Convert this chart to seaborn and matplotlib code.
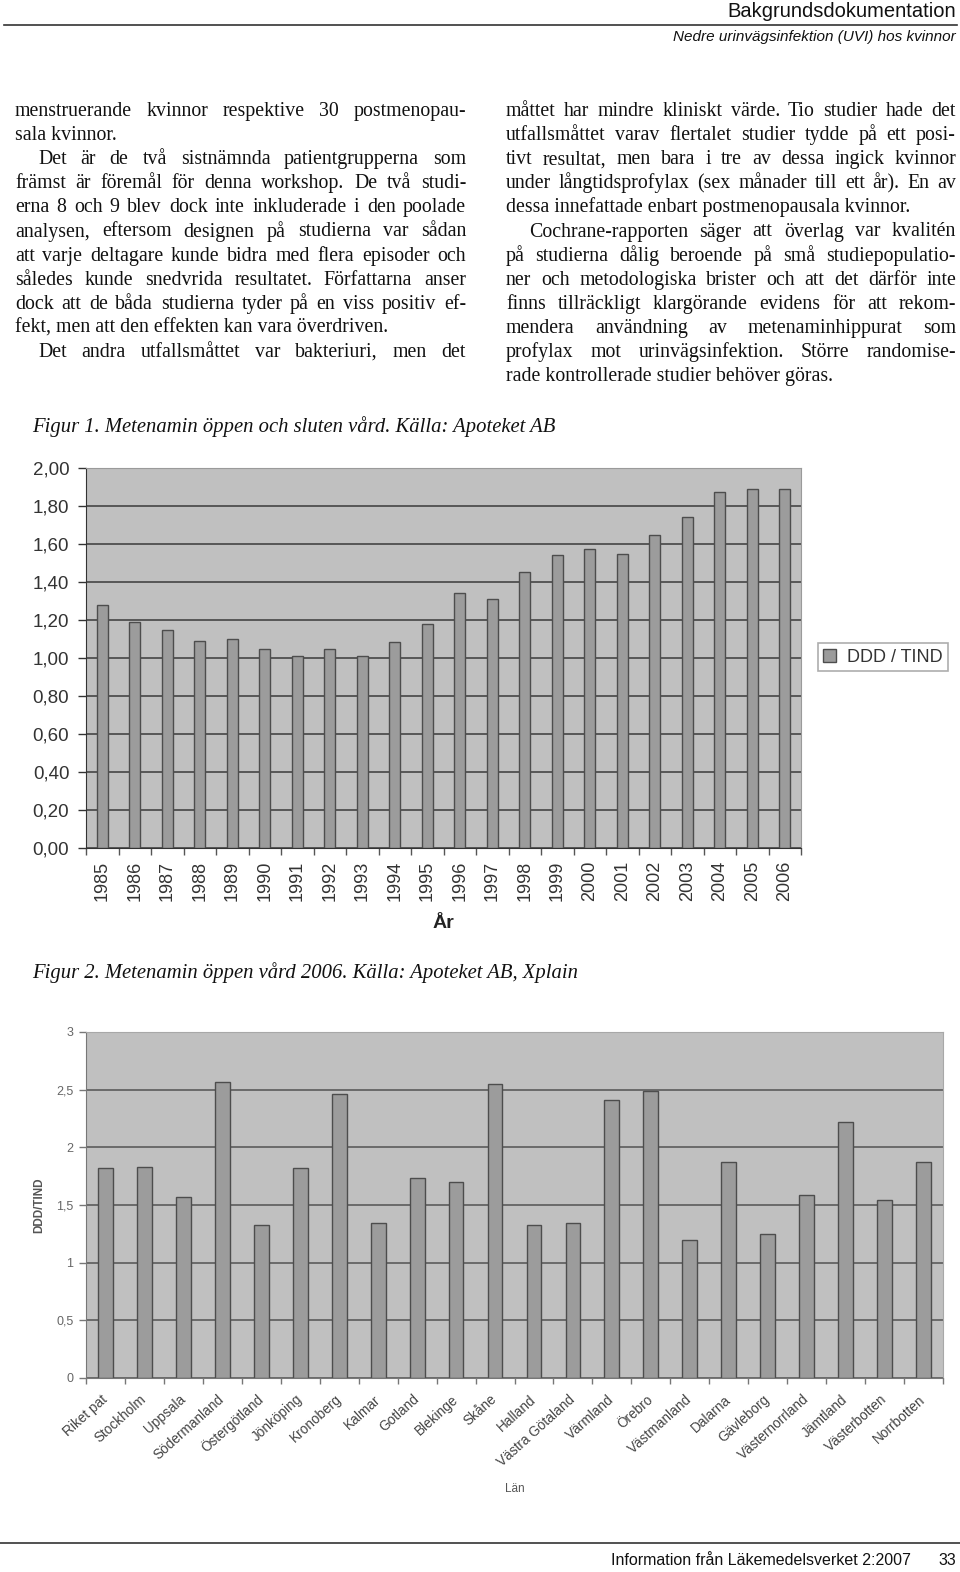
import numpy as np
import pandas as pd
import matplotlib
matplotlib.use("Agg")
import matplotlib.pyplot as plt
import seaborn as sns
from matplotlib.font_manager import FontProperties
from matplotlib.lines import Line2D
import matplotlib.patches as mpatches

# ---------------- data ----------------
years = ["1985", "1986", "1987", "1988", "1989", "1990", "1991", "1992", "1993", "1994", "1995",
         "1996", "1997", "1998", "1999", "2000", "2001", "2002", "2003", "2004", "2005", "2006"]
ddd_years = [1.28, 1.19, 1.15, 1.09, 1.10, 1.05, 1.01, 1.045, 1.01, 1.085, 1.18,
             1.34, 1.31, 1.455, 1.54, 1.575, 1.55, 1.65, 1.74, 1.875, 1.89, 1.89]
y1_ticks = [0.0, 0.2, 0.4, 0.6, 0.8, 1.0, 1.2, 1.4, 1.6, 1.8, 2.0]
y1_labels = ["0,00", "0,20", "0,40", "0,60", "0,80", "1,00", "1,20", "1,40", "1,60", "1,80", "2,00"]

lan = ["Riket pat", "Stockholm", "Uppsala", "Södermanland", "Östergötland", "Jönköping",
       "Kronoberg", "Kalmar", "Gotland", "Blekinge", "Skåne", "Halland", "Västra Götaland",
       "Värmland", "Örebro", "Västmanland", "Dalarna", "Gävleborg", "Västernorrland",
       "Jämtland", "Västerbotten", "Norrbotten"]
ddd_lan = [1.82, 1.83, 1.57, 2.57, 1.33, 1.82, 2.46, 1.34, 1.73, 1.70, 2.55, 1.33, 1.34,
           2.41, 2.49, 1.20, 1.87, 1.25, 1.59, 2.22, 1.54, 1.87]
y2_ticks = [0, 0.5, 1, 1.5, 2, 2.5, 3]
y2_labels = ["0", "0,5", "1", "1,5", "2", "2,5", "3"]

left_col = [
    ("menstruerande kvinnor respektive 30 postmenopau-", True, 0),
    ("sala kvinnor.", False, 0),
    ("Det är de två sistnämnda patientgrupperna som", True, 23),
    ("främst är föremål för denna workshop. De två studi-", True, 0),
    ("erna 8 och 9 blev dock inte inkluderade i den poolade", True, 0),
    ("analysen, eftersom designen på studierna var sådan", True, 0),
    ("att varje deltagare kunde bidra med flera episoder och", True, 0),
    ("således kunde snedvrida resultatet. Författarna anser", True, 0),
    ("dock att de båda studierna tyder på en viss positiv ef-", True, 0),
    ("fekt, men att den effekten kan vara överdriven.", False, 0),
    ("Det andra utfallsmåttet var bakteriuri, men det", True, 23),
]
right_col = [
    ("måttet har mindre kliniskt värde. Tio studier hade det", True, 0),
    ("utfallsmåttet varav flertalet studier tydde på ett posi-", True, 0),
    ("tivt resultat, men bara i tre av dessa ingick kvinnor", True, 0),
    ("under långtidsprofylax (sex månader till ett år). En av", True, 0),
    ("dessa innefattade enbart postmenopausala kvinnor.", False, 0),
    ("Cochrane-rapporten säger att överlag var kvalitén", True, 23),
    ("på studierna dålig beroende på små studiepopulatio-", True, 0),
    ("ner och metodologiska brister och att det därför inte", True, 0),
    ("finns tillräckligt klargörande evidens för att rekom-", True, 0),
    ("mendera användning av metenaminhippurat som", True, 0),
    ("profylax mot urinvägsinfektion. Större randomise-", True, 0),
    ("rade kontrollerade studier behöver göras.", False, 0),
]

# ---------------- figure ----------------
W, H = 960, 1572
fig = plt.figure(figsize=(W / 100, H / 100), dpi=100)
fig.patch.set_facecolor("white")
plt.rcParams["font.family"] = ["Liberation Sans", "DejaVu Sans"]

def fx(x):
    return x / W

def fy(y):
    return 1 - y / H

def axes_px(l, t, r, b):
    return fig.add_axes([fx(l), fy(b), (r - l) / W, (b - t) / H])

renderer = fig.canvas.get_renderer()
serif = FontProperties(family="Liberation Serif", size=14.3)
serif_it = FontProperties(family="Liberation Serif", style="italic", size=14.9)

def text_line(x0, x1, y, s, fp, justify, indent):
    xs = x0 + indent
    if not justify:
        fig.text(fx(xs), fy(y), s, fontproperties=fp, va="baseline", ha="left", color="#111111")
        return
    words = s.split()
    widths = [renderer.get_text_width_height_descent(w, fp, ismath=False)[0] for w in words]
    gap = (x1 - xs - sum(widths)) / (len(words) - 1)
    for w, wd in zip(words, widths):
        fig.text(fx(xs), fy(y), w, fontproperties=fp, va="baseline", ha="left", color="#111111")
        xs += wd + gap

for i, (s, j, ind) in enumerate(left_col):
    text_line(15, 466, 116 + 24.1 * i, s, serif, j, ind)
for i, (s, j, ind) in enumerate(right_col):
    text_line(506, 956, 116 + 24.1 * i, s, serif, j, ind)

# header / footer
fig.text(fx(956), fy(17), "Bakgrundsdokumentation", ha="right", va="baseline",
         fontsize=14.5, family="Liberation Sans", color="#111111")
fig.text(fx(956), fy(41), "Nedre urinvägsinfektion (UVI) hos kvinnor", ha="right", va="baseline",
         fontsize=11, family="Liberation Sans", style="italic", color="#111111")
fig.add_artist(Line2D([fx(4), fx(957)], [fy(25), fy(25)], color="#333333", lw=1.2))
fig.add_artist(Line2D([fx(0), fx(960)], [fy(1543), fy(1543)], color="#333333", lw=1.2))
fig.text(fx(911), fy(1565), "Information från Läkemedelsverket 2:2007", ha="right", va="baseline",
         fontsize=11.5, family="Liberation Sans", color="#111111")
fig.text(fx(956), fy(1565), "33", ha="right", va="baseline",
         fontsize=11.5, family="Liberation Sans", color="#111111")

# captions
fig.text(fx(32), fy(432), "Figur 1. Metenamin öppen och sluten vård. Källa: Apoteket AB",
         fontproperties=serif_it, ha="left", va="baseline", color="#111111")
fig.text(fx(32), fy(978), "Figur 2. Metenamin öppen vård 2006. Källa: Apoteket AB, Xplain",
         fontproperties=serif_it, ha="left", va="baseline", color="#111111")

BG = "#c0c0c0"
BAR = "#9c9c9c"
EDGE = "#4d4d4d"

# ---------------- chart 1 ----------------
df1 = pd.DataFrame({"År": years, "DDD / TIND": ddd_years})
ax1 = axes_px(86, 468, 801, 848)
sns.barplot(data=df1, x="År", y="DDD / TIND", ax=ax1, color=BAR, saturation=1,
            edgecolor=EDGE, linewidth=1.0, width=0.35)
ax1.set_facecolor(BG)
ax1.set_xlim(-0.5, len(years) - 0.5)
ax1.set_ylim(0, 2.0)
ax1.set_yticks(y1_ticks)
ax1.set_yticklabels(y1_labels, fontsize=13.5, color="#333333")
ax1.yaxis.grid(True, color="#3a3a3a", lw=1.1)
ax1.set_axisbelow(True)
ax1.tick_params(axis="y", length=6, width=1, color="#333333", pad=6, direction="out")
ax1.tick_params(axis="x", which="major", length=0, pad=9, labelsize=13, labelcolor="#333333")
ax1.set_xticks(np.arange(-0.5, len(years), 1), minor=True)
ax1.tick_params(axis="x", which="minor", length=5, width=1, color="#555555", direction="out")
for lab in ax1.get_xticklabels():
    lab.set_rotation(90)
ax1.set_ylabel("")
ax1.set_xlabel("År", fontsize=14, fontweight="bold", color="#222222", labelpad=10)
for side in ["top", "right"]:
    ax1.spines[side].set_color("#9a9a9a")
ax1.spines["left"].set_color("#333333")
ax1.spines["bottom"].set_color("#333333")
handle = mpatches.Patch(facecolor=BAR, edgecolor=EDGE, label="DDD / TIND")
leg = ax1.legend(handles=[handle], loc="center left", bbox_to_anchor=(fx(809), fy(657)),
                 bbox_transform=fig.transFigure, frameon=True, fancybox=False,
                 edgecolor="#999999", fontsize=13, handlelength=0.7, handleheight=0.7,
                 borderpad=0.3, handletextpad=0.6)
leg.get_frame().set_linewidth(1.2)
for t in leg.get_texts():
    t.set_color("#333333")

# ---------------- chart 2 ----------------
df2 = pd.DataFrame({"Län": lan, "DDD/TIND": ddd_lan})
ax2 = axes_px(86, 1032, 943, 1378)
sns.barplot(data=df2, x="Län", y="DDD/TIND", ax=ax2, color=BAR, saturation=1,
            edgecolor=EDGE, linewidth=1.0, width=0.38)
ax2.set_facecolor(BG)
ax2.set_xlim(-0.5, len(lan) - 0.5)
ax2.set_ylim(0, 3)
ax2.set_yticks(y2_ticks)
ax2.set_yticklabels(y2_labels, fontsize=9, color="#666666")
ax2.yaxis.grid(True, color="#6a6a6a", lw=1.4)
ax2.set_axisbelow(True)
ax2.tick_params(axis="y", length=5, width=1, color="#777777", pad=4, direction="out")
ax2.tick_params(axis="x", which="major", length=0, pad=14, labelsize=9.8, labelcolor="#444444")
ax2.set_xticks(np.arange(-0.5, len(lan), 1), minor=True)
ax2.tick_params(axis="x", which="minor", length=4, width=1, color="#777777", direction="out")
for lab in ax2.get_xticklabels():
    lab.set_rotation(42)
    lab.set_ha("right")
    lab.set_va("center")
    lab.set_rotation_mode("anchor")
ax2.set_ylabel("DDD/TIND", fontsize=8.5, fontweight="bold", color="#555555", labelpad=8)
ax2.set_xlabel("Län", fontsize=8.5, color="#555555", labelpad=10)
for side in ["top", "right"]:
    ax2.spines[side].set_color("#a8a8a8")
ax2.spines["left"].set_color("#777777")
ax2.spines["bottom"].set_color("#777777")

fig.savefig("out.png", dpi=100, facecolor="white")
